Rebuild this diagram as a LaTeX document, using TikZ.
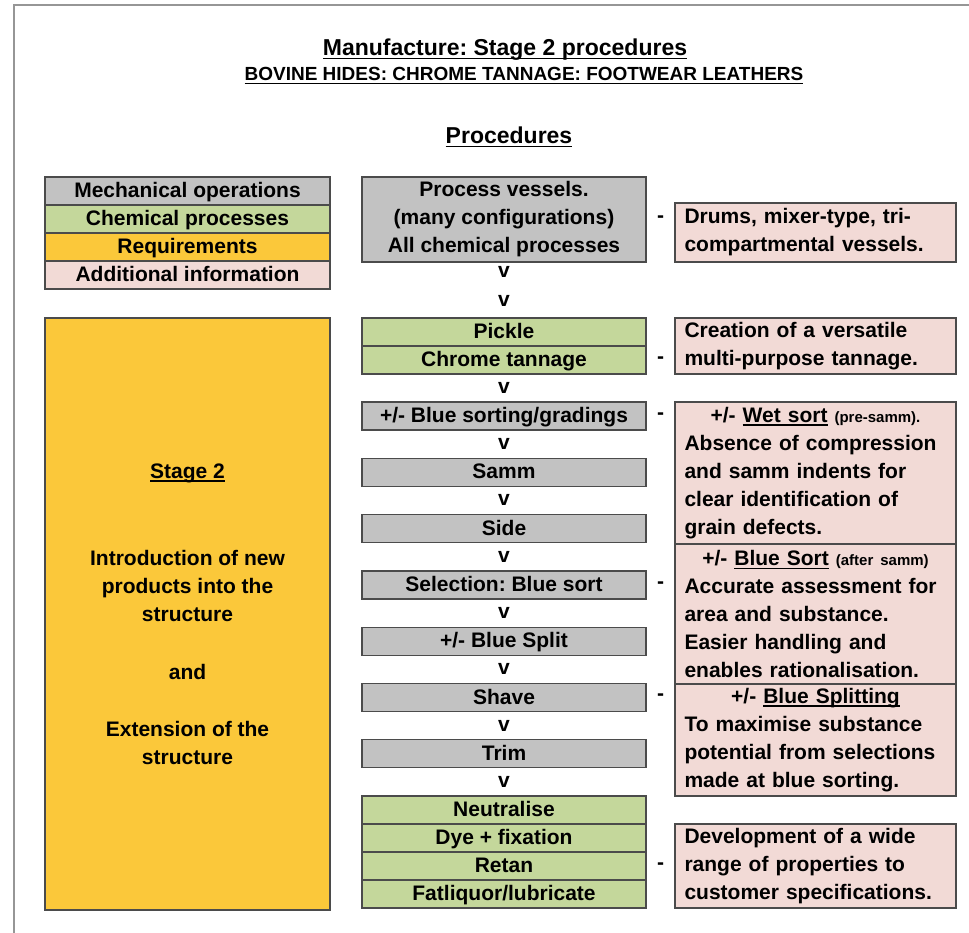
\documentclass[tikz,border=0pt]{standalone}
\usepackage{fontspec}
\setmainfont{Liberation Sans}
\usetikzlibrary{positioning}
\frenchspacing
\definecolor{mechgray}{RGB}{194,194,194}
\definecolor{chemgreen}{RGB}{196,215,155}
\definecolor{reqyellow}{RGB}{251,200,58}
\definecolor{infopink}{RGB}{242,218,214}
\definecolor{boxline}{RGB}{75,75,75}
\definecolor{framegray}{RGB}{150,150,150}
\newcommand{\undl}[1]{\leavevmode\setbox0=\hbox{#1}\rlap{\rule[-3.5pt]{\wd0}{1.4pt}}\box0\relax}
\newcommand{\infohead}[1]{\makebox[262pt][c]{#1}}
\newcommand{\smalltxt}[1]{{\fontsize{15}{15}\selectfont #1}}
\tikzset{%
  box/.style={draw=boxline, line width=1.3pt, minimum width=284pt, minimum height=28pt,
    inner sep=0pt, outer sep=0pt, align=center, font=\bfseries\fontsize{21}{28}\selectfont},
  row/.style={text height=17pt, text depth=4pt},
  mechbox/.style={box, fill=mechgray},
  reqbox/.style={box, fill=reqyellow},
  mech/.style={mechbox, row},
  chem/.style={box, fill=chemgreen, row},
  req/.style={reqbox, row},
  info/.style={box, fill=infopink, minimum width=281pt, text width=262pt, align=left},
  legend/.style={minimum width=285pt},
  vmark/.style={font=\bfseries\fontsize{21}{21}\selectfont, inner sep=0pt},
  dashmark/.style={font=\bfseries\fontsize{21}{21}\selectfont, inner sep=0pt},
  heading/.style={font=\bfseries\fontsize{23}{23}\selectfont, inner sep=0pt}
}
\begin{document}
\begin{tikzpicture}[x=1pt,y=-1pt]
  \useasboundingbox (0,0) rectangle (969,933);
  \draw[framegray, line width=1.5pt] (14,933) -- (14,5) -- (969,5);

  % headings
  \node[heading] (title) at (505,50) {\undl{Manufacture: Stage 2 procedures}};
  \node[heading, font=\bfseries\fontsize{19}{19}\selectfont] (subtitle) at (524,76)
    {\undl{BOVINE HIDES: CHROME TANNAGE: FOOTWEAR LEATHERS}};
  \node[heading] (proc) at (509,137) {\undl{Procedures}};

  % legend
  \node[mech,legend] (legmech) at (187.5,191) {Mechanical operations};
  \node[chem,legend,below=0pt of legmech] (legchem) {Chemical processes};
  \node[req,legend,below=0pt of legchem] (legreq) {Requirements};
  \node[box,row,fill=infopink,legend,below=0pt of legreq] (leginfo) {Additional information};

  % stage box
  \node[reqbox,legend,minimum height=592pt,anchor=north west] (stage) at (45,318)
    {\undl{Stage 2}\\[59pt] Introduction of new\\ products into the\\ structure\\[30pt]
     and\\[29pt] Extension of the\\ structure};

  % procedures column
  \node[mechbox,minimum height=85pt,anchor=north] (vessels) at (504,177)
    {Process vessels.\\ (many configurations)\\ All chemical processes};
  \node[chem,anchor=north] (pickle) at (504,318) {Pickle};
  \node[chem,below=0pt of pickle] (chrome) {Chrome tannage};
  \node[mech,below=28pt of chrome] (bluesort) {+/- Blue sorting/gradings};
  \node[mech,below=28.3pt of bluesort] (samm) {Samm};
  \node[mech,below=28.3pt of samm] (side) {Side};
  \node[mech,below=28.3pt of side] (select) {Selection: Blue sort};
  \node[mech,below=28.3pt of select] (split) {+/- Blue Split};
  \node[mech,below=28.3pt of split] (shave) {Shave};
  \node[mech,below=28.3pt of shave] (trim) {Trim};
  \node[chem,below=28.3pt of trim] (neutral) {Neutralise};
  \node[chem,below=0pt of neutral] (dye) {Dye + fixation};
  \node[chem,below=0pt of dye] (retan) {Retan};
  \node[chem,below=0pt of retan] (fatliq) {Fatliquor/lubricate};

  \path (vessels) -- node[vmark,pos=0.18] {v} node[vmark,pos=0.7] {v} (pickle);
  \path (chrome) -- node[vmark] {v} (bluesort);
  \path (bluesort) -- node[vmark] {v} (samm);
  \path (samm) -- node[vmark] {v} (side);
  \path (side) -- node[vmark] {v} (select);
  \path (select) -- node[vmark] {v} (split);
  \path (split) -- node[vmark] {v} (shave);
  \path (shave) -- node[vmark] {v} (trim);
  \path (trim) -- node[vmark] {v} (neutral);

  % additional information
  \node[info,minimum height=59pt,anchor=north west] (drums) at (675,203)
    {Drums, mixer-type, tri-\\ compartmental vessels.};
  \node[info,minimum height=56pt,anchor=north west] (versatile) at (675,318)
    {Creation of a versatile\\ multi-purpose tannage.};
  \node[info,minimum height=142pt,anchor=north west] (wetsort) at (675,402)
    {\infohead{+/- \undl{Wet sort} \smalltxt{(pre-samm).}}\\ Absence of compression\\
     and samm indents for\\ clear identification of\\ grain defects.};
  \node[info,minimum height=140pt,below=0pt of wetsort] (bluesortinfo)
    {\infohead{+/- \undl{Blue Sort} \smalltxt{(after samm)}}\\ Accurate assessment for\\
     area and substance.\\ Easier handling and\\ enables rationalisation.};
  \node[info,minimum height=112pt,below=0pt of bluesortinfo] (splitinfo)
    {\infohead{+/- \undl{Blue Splitting}}\\ To maximise substance\\
     potential from selections\\ made at blue sorting.};
  \node[info,minimum height=84pt,anchor=north west] (develop) at (675,824)
    {Development of a wide\\ range of properties to\\ customer specifications.};

  \path (vessels) -- node[dashmark] {-} (vessels -| drums.west);
  \path (chrome) -- node[dashmark] {-} (chrome -| versatile.west);
  \path (bluesort) -- node[dashmark] {-} (bluesort -| wetsort.west);
  \path (select) -- node[dashmark] {-} (select -| bluesortinfo.west);
  \path (shave) -- node[dashmark] {-} (shave -| splitinfo.west);
  \path (retan) -- node[dashmark] {-} (retan -| develop.west);
\end{tikzpicture}
\end{document}
